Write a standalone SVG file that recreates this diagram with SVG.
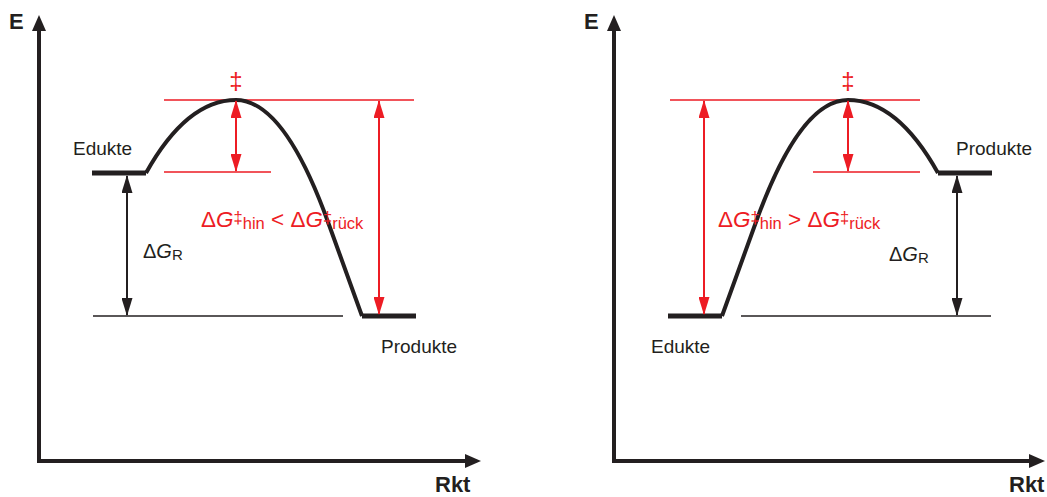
<svg xmlns="http://www.w3.org/2000/svg" width="1047" height="497" viewBox="0 0 1047 497">
<defs>
<style>
.axis{fill:none;stroke:#231f20;stroke-width:4}
.curve{fill:none;stroke:#231f20;stroke-width:4;stroke-linejoin:round}
.level{fill:none;stroke:#231f20;stroke-width:5}
.thin{fill:none;stroke:#231f20;stroke-width:1.5}
.rline{fill:none;stroke:#ed1c24;stroke-width:1.6}
.rarrow{fill:none;stroke:#ed1c24;stroke-width:2}
.barrow{fill:none;stroke:#231f20;stroke-width:2}
text{font-family:"Liberation Sans",Arial,sans-serif}
.lbl{font-size:19px;fill:#231f20}
.ax{font-size:22px;font-weight:bold;fill:#231f20}
.red{fill:#ed1c24}
.f{font-size:22.5px;fill:#ed1c24}
.s{font-size:16.5px}
.dg{font-size:20px;fill:#231f20}
</style>
<marker id="axhead" markerUnits="userSpaceOnUse" viewBox="0 0 16 14" markerWidth="16" markerHeight="14" refX="1" refY="7" orient="auto-start-reverse">
<path d="M0,0 L16,7 L0,14 Z" fill="#231f20"/>
</marker>
<marker id="rhead" markerUnits="userSpaceOnUse" viewBox="0 0 18 11" markerWidth="18" markerHeight="11" refX="17" refY="5.5" orient="auto-start-reverse">
<path d="M0,0 L18,5.5 L0,11 Z" fill="#ed1c24"/>
</marker>
<marker id="bhead" markerUnits="userSpaceOnUse" viewBox="0 0 18 11" markerWidth="18" markerHeight="11" refX="17" refY="5.5" orient="auto-start-reverse">
<path d="M0,0 L18,5.5 L0,11 Z" fill="#231f20"/>
</marker>
</defs>

<g id="left-panel">
<g id="left-axes">
<path class="axis" d="M39,30 L39,461 L466,461" marker-start="url(#axhead)" marker-end="url(#axhead)"/>
<text class="ax" x="9" y="29">E</text>
<text class="ax" x="435" y="492">Rkt</text>
</g>
<g id="left-levels">
<path class="rline" d="M164,100 H414 M164,172 H271"/>
<path class="thin" d="M93,316 H343"/>
<path class="level" d="M92,173 H146 M362,316 H416"/>
<path class="curve" d="M146,173 C170,130 200,100 236,100 C272,100 302,150 328,222 L362,316"/>
</g>
<g id="left-labels">
<text class="lbl" x="73" y="155">Edukte</text>
<text class="lbl" x="381" y="353">Produkte</text>
<text class="red" x="236" y="89" font-size="24" text-anchor="middle">‡</text>
<text class="f" x="201" y="227">Δ<tspan font-style="italic">G</tspan><tspan class="s" dy="-4">‡</tspan><tspan class="s" dy="6">hin</tspan><tspan dy="-2"> &lt; Δ</tspan><tspan font-style="italic">G</tspan><tspan class="s" dy="-4">‡</tspan><tspan class="s" dy="6">rück</tspan></text>
<text class="dg" x="143" y="258">Δ<tspan font-style="italic">G</tspan><tspan font-size="15" dy="2">R</tspan></text>
</g>
</g>

<g id="right-panel">
<g id="right-axes">
<path class="axis" d="M614,30 L614,461 L1030,461" marker-start="url(#axhead)" marker-end="url(#axhead)"/>
<text class="ax" x="584" y="29">E</text>
<text class="ax" x="1009" y="492">Rkt</text>
</g>
<g id="right-levels">
<path class="rline" d="M670,100 H920 M813,172 H920"/>
<path class="thin" d="M741,316 H991"/>
<path class="level" d="M938,173 H992 M668,316 H722"/>
<path class="curve" d="M938,173 C914,130 884,100 848,100 C812,100 782,150 756,222 L722,316"/>
</g>
<g id="right-labels">
<text class="lbl" x="956" y="155">Produkte</text>
<text class="lbl" x="651" y="353">Edukte</text>
<text class="red" x="848" y="89" font-size="24" text-anchor="middle">‡</text>
<text class="f" x="718" y="227">Δ<tspan font-style="italic">G</tspan><tspan class="s" dy="-4">‡</tspan><tspan class="s" dy="6">hin</tspan><tspan dy="-2"> &gt; Δ</tspan><tspan font-style="italic">G</tspan><tspan class="s" dy="-4">‡</tspan><tspan class="s" dy="6">rück</tspan></text>
<text class="dg" x="889" y="261">Δ<tspan font-style="italic">G</tspan><tspan font-size="15" dy="2">R</tspan></text>
</g>
</g>

<g id="connectors">
<line class="rarrow" x1="236" y1="101" x2="236" y2="171" marker-start="url(#rhead)" marker-end="url(#rhead)"/>
<line class="rarrow" x1="379" y1="101" x2="379" y2="314" marker-start="url(#rhead)" marker-end="url(#rhead)"/>
<line class="barrow" x1="127" y1="176" x2="127" y2="315" marker-start="url(#bhead)" marker-end="url(#bhead)"/>
<line class="rarrow" x1="848" y1="101" x2="848" y2="171" marker-start="url(#rhead)" marker-end="url(#rhead)"/>
<line class="rarrow" x1="704" y1="101" x2="704" y2="314" marker-start="url(#rhead)" marker-end="url(#rhead)"/>
<line class="barrow" x1="957" y1="176" x2="957" y2="315" marker-start="url(#bhead)" marker-end="url(#bhead)"/>
</g>
</svg>
